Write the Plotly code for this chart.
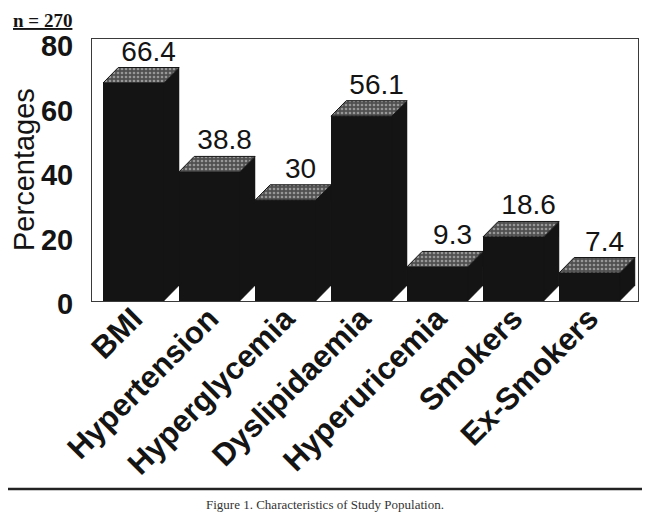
import plotly.graph_objects as go

# data
categories = ["BMI", "Hypertension", "Hyperglycemia", "Dyslipidaemia",
              "Hyperuricemia", "Smokers", "Ex-Smokers"]
percentages = [66.4, 38.8, 30, 56.1, 9.3, 18.6, 7.4]
y_ticks = [0, 20, 40, 60, 80]
sample_note = "n = 270"
caption = "Figure 1. Characteristics of Study Population."

# pseudo-3D look: front face + shaded top + black right side
FRONT = 0.8          # front face width in category units
DX = 0.2             # depth shift to the right (category units)
DY = 4.8             # depth shift upwards (data units)
FLOOR = -1.3         # bars stand on the bottom of the frame
INK = "#141414"
SANS = "Arial, Liberation Sans, sans-serif"
SERIF = "Times New Roman, Liberation Serif, serif"

idx = list(range(len(categories)))
half = FRONT / 2

fig = go.Figure()

for i, v in zip(idx, percentages):
    # right side face
    fig.add_trace(go.Scatter(
        x=[i + half, i + half, i + half + DX, i + half + DX, i + half],
        y=[FLOOR, v, v + DY, FLOOR + DY, FLOOR],
        mode="lines", fill="toself", fillcolor=INK,
        line={"color": INK, "width": 0.5},
        hoverinfo="skip", showlegend=False,
    ))
    # stippled top face
    fig.add_trace(go.Scatter(
        x=[i - half, i - half + DX, i + half + DX, i + half, i - half],
        y=[v, v + DY, v + DY, v, v],
        mode="lines", fill="toself", fillcolor="#6a6a6a",
        fillpattern={"shape": ".", "fgcolor": "#dedede", "bgcolor": "#505050",
                     "size": 4, "solidity": 0.35},
        line={"color": INK, "width": 1},
        hoverinfo="skip", showlegend=False,
    ))

# front faces
fig.add_trace(go.Bar(
    x=idx, y=[v - FLOOR for v in percentages], base=FLOOR, width=FRONT,
    marker={"color": INK, "line": {"width": 0}},
    customdata=[[c, v] for c, v in zip(categories, percentages)],
    hovertemplate="%{customdata[0]}: %{customdata[1]}%<extra></extra>",
    showlegend=False,
))

# value labels above the top faces
fig.add_trace(go.Scatter(
    x=[i + DX for i in idx],
    y=[v + DY for v in percentages],
    mode="text",
    text=[f"{v:g}" for v in percentages],
    textposition="top center",
    textfont={"family": SANS, "size": 28, "color": INK},
    hoverinfo="skip", showlegend=False,
))

fig.update_xaxes(
    range=[-0.545, 6.64],
    tickmode="array", tickvals=idx, ticktext=categories,
    tickangle=-45, ticks="",
    ticklabelstandoff=-14,
    tickfont={"family": SANS, "size": 31, "color": INK, "weight": "bold"},
    showgrid=False, zeroline=False,
    showline=True, mirror=True, linecolor="#3a3a3a", linewidth=1,
)
fig.update_yaxes(
    range=[FLOOR, 80.06],
    tickmode="array", tickvals=y_ticks, ticks="",
    ticklabelstandoff=12, ticklabelshift=7,
    tickfont={"family": SANS, "size": 29, "color": INK, "weight": "bold"},
    showgrid=False, zeroline=False,
    showline=True, mirror=True, linecolor="#3a3a3a", linewidth=1,
)

fig.add_annotation(
    text="Percentages", xref="paper", yref="paper", x=0, y=0.5,
    xshift=-68, textangle=-90, showarrow=False,
    xanchor="center", yanchor="middle",
    font={"family": SANS, "size": 29, "color": INK},
)
fig.add_annotation(
    text=f"<b><u>{sample_note}</u></b>", xref="paper", yref="paper",
    x=-0.148, y=1.072, xanchor="left", yanchor="middle", showarrow=False,
    font={"family": SERIF, "size": 19, "color": INK},
)
fig.add_annotation(
    text=caption, xref="paper", yref="paper",
    x=0.4267, y=-0.776, xanchor="center", yanchor="middle", showarrow=False,
    font={"family": SERIF, "size": 13, "color": "#333333"},
)
fig.add_shape(
    type="line", xref="paper", yref="paper",
    x0=-0.159, x1=1.0128, y0=-0.7176, y1=-0.7176,
    line={"color": "#222222", "width": 2.5},
)

# the page is drawn 8 px in from the window corner, so the figure is
# 8 px smaller and the left/top margins are trimmed to match the scan
fig.update_layout(
    width=642, height=509,
    margin={"l": 84, "r": 12, "t": 31, "b": 216},
    paper_bgcolor="white", plot_bgcolor="white",
    bargap=0,
)

fig.write_html("out.html")
